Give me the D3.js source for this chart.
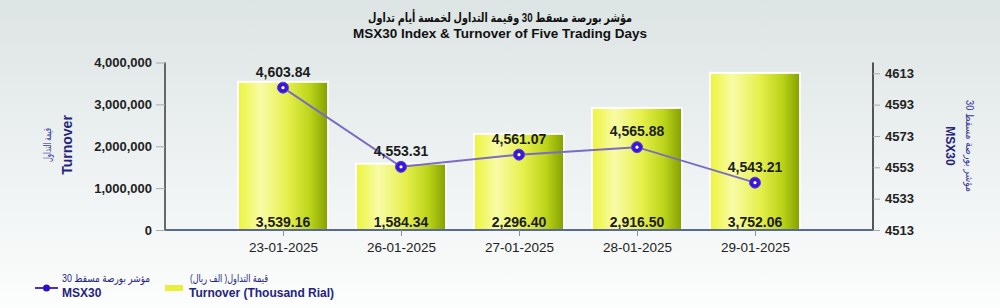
<!DOCTYPE html>
<html>
<head>
<meta charset="utf-8">
<script src="https://cdn.jsdelivr.net/npm/d3@7.9.0/dist/d3.min.js"></script>
<style>
  html, body { margin: 0; padding: 0; }
  body { width: 1000px; height: 308px; overflow: hidden; font-family: "Liberation Sans", "DejaVu Sans", Arial, sans-serif; }
  svg text { font-family: "Liberation Sans", "DejaVu Sans", Arial, sans-serif; }
</style>
</head>
<body>
<svg id="chart" width="1000" height="308"></svg>
<script>
// chart data
const dates = ["23-01-2025", "26-01-2025", "27-01-2025", "28-01-2025", "29-01-2025"];
const turnover = [3539.16, 1584.34, 2296.40, 2916.50, 3752.06]; // thousand rial
const msx30 = [4603.84, 4553.31, 4561.07, 4565.88, 4543.21];
const leftTicks = [0, 1000000, 2000000, 3000000, 4000000];
const rightTicks = [4513, 4533, 4553, 4573, 4593, 4613];

const svg = d3.select("#chart");
const defs = svg.append("defs");

// background
const bg = defs.append("linearGradient").attr("id", "bg").attr("x1", 0).attr("y1", 0).attr("x2", 0).attr("y2", 1);
bg.append("stop").attr("offset", "0%").attr("stop-color", "#dde4e4");
bg.append("stop").attr("offset", "55%").attr("stop-color", "#eef2f2");
bg.append("stop").attr("offset", "100%").attr("stop-color", "#fcfdfd");
svg.append("rect").attr("width", 1000).attr("height", 308).attr("fill", "url(#bg)");

// bar gradient
const bar = defs.append("linearGradient").attr("id", "barGrad").attr("x1", 0).attr("y1", 0).attr("x2", 1).attr("y2", 0);
bar.append("stop").attr("offset", "0%").attr("stop-color", "#ecf43a");
bar.append("stop").attr("offset", "25%").attr("stop-color", "#f8fba6");
bar.append("stop").attr("offset", "55%").attr("stop-color", "#e6f04c");
bar.append("stop").attr("offset", "80%").attr("stop-color", "#bcd41a");
bar.append("stop").attr("offset", "100%").attr("stop-color", "#84a000");

// scales
const x = d3.scalePoint().domain(dates).range([165, 873]).padding(1);
const yLeft = d3.scaleLinear().domain([0, 4000000]).range([230, 62.5]);
const yRight = d3.scaleLinear().domain([4513, 4613]).range([230, 73.3]);

// title
svg.append("text").attr("x", 500).attr("y", 22).attr("text-anchor", "middle")
  .attr("font-size", 12.5).attr("font-weight", "bold").attr("fill", "#111")
  .attr("textLength", 264).attr("lengthAdjust", "spacingAndGlyphs")
  .text("مؤشر بورصة مسقط 30 وقيمة التداول لخمسة أيام تداول");
svg.append("text").attr("x", 500).attr("y", 38).attr("text-anchor", "middle")
  .attr("font-size", 13.5).attr("font-weight", "bold").attr("fill", "#111")
  .text("MSX30 Index & Turnover of Five Trading Days");

// bars
const barW = 90;
svg.append("g").selectAll("rect")
  .data(turnover)
  .join("rect")
  .attr("x", (d, i) => x(dates[i]) - barW / 2)
  .attr("y", d => yLeft(d * 1000))
  .attr("width", barW)
  .attr("height", d => 230 - yLeft(d * 1000))
  .attr("fill", "url(#barGrad)")
  .attr("stroke", "#ffffff")
  .attr("stroke-width", 2);

// bar labels
svg.append("g").selectAll("text")
  .data(turnover)
  .join("text")
  .attr("x", (d, i) => x(dates[i]))
  .attr("y", 227)
  .attr("text-anchor", "middle")
  .attr("font-size", 14).attr("font-weight", "bold").attr("fill", "#1c1c1c")
  .text(d => d3.format(",.2f")(d));

// left axis
const leftAxis = d3.axisLeft(yLeft).tickValues(leftTicks).tickSize(9).tickPadding(4).tickFormat(d3.format(","));
const gL = svg.append("g").attr("transform", "translate(165,0)").call(leftAxis);
gL.select(".domain").attr("stroke", "#3a3a3a").attr("stroke-width", 1.5).attr("d", "M0,62.5V230");
gL.selectAll(".tick line").attr("stroke", "#aaaaaa");
gL.selectAll(".tick text").attr("font-size", 13).attr("font-weight", "bold").attr("fill", "#222");

// right axis
const rightAxis = d3.axisRight(yRight).tickValues(rightTicks).tickSize(7).tickPadding(5).tickFormat(d3.format("d"));
const gR = svg.append("g").attr("transform", "translate(873,0)").call(rightAxis);
gR.select(".domain").attr("stroke", "#222").attr("stroke-width", 1.5).attr("d", "M0,62.5V230");
gR.selectAll(".tick line").attr("stroke", "#aaaaaa");
gR.selectAll(".tick text").attr("font-size", 13).attr("font-weight", "bold").attr("fill", "#222");

// bottom axis
const bottomAxis = d3.axisBottom(x).tickSize(6).tickPadding(6);
const gB = svg.append("g").attr("transform", "translate(0,230)").call(bottomAxis);
gB.select(".domain").attr("stroke", "#5a6894").attr("stroke-width", 2).attr("d", "M165,0H873");
gB.selectAll(".tick line").attr("stroke", "#8890a8");
gB.selectAll(".tick text").attr("font-size", 13.5).attr("fill", "#222");

// index line
const line = d3.line().x((d, i) => x(dates[i])).y(d => yRight(d));
svg.append("path").datum(msx30).attr("d", line)
  .attr("fill", "none").attr("stroke", "#7a6cc4").attr("stroke-width", 2);

const pts = svg.append("g").selectAll("g").data(msx30).join("g")
  .attr("transform", (d, i) => `translate(${x(dates[i])},${yRight(d)})`);
pts.append("circle").attr("r", 5.5).attr("fill", "#3a16d6").attr("stroke", "#5a40e8").attr("stroke-width", 1);
pts.append("circle").attr("r", 1.6).attr("fill", "#ffffff");

// index labels
svg.append("g").selectAll("text").data(msx30).join("text")
  .attr("x", (d, i) => x(dates[i]))
  .attr("y", d => yRight(d) - 11)
  .attr("text-anchor", "middle")
  .attr("font-size", 14).attr("font-weight", "bold").attr("fill", "#1c1c1c")
  .text(d => d3.format(",.2f")(d));

// left axis title
const lt = svg.append("g").attr("transform", "translate(0,145) rotate(-90)");
lt.append("text").attr("x", 0).attr("y", 51).attr("text-anchor", "middle")
  .attr("font-size", 10.5).attr("fill", "#3a3a9a")
  .attr("textLength", 34).attr("lengthAdjust", "spacingAndGlyphs").text("قيمة التداول");
lt.append("text").attr("x", 0).attr("y", 72).attr("text-anchor", "middle")
  .attr("font-size", 14).attr("font-weight", "bold").attr("fill", "#24247c").text("Turnover");

// right axis title
const rt = svg.append("g").attr("transform", "translate(1000,146) rotate(90)");
rt.append("text").attr("x", 0).attr("y", 34).attr("text-anchor", "middle")
  .attr("font-size", 10.5).attr("fill", "#3a3a9a")
  .attr("textLength", 92).attr("lengthAdjust", "spacingAndGlyphs").text("مؤشر بورصة مسقط 30");
rt.append("text").attr("x", 0).attr("y", 54).attr("text-anchor", "middle")
  .attr("font-size", 12).attr("font-weight", "bold").attr("fill", "#24247c").text("MSX30");

// legend
const lg = svg.append("g");
lg.append("line").attr("x1", 35).attr("x2", 58).attr("y1", 288).attr("y2", 288)
  .attr("stroke", "#4a30c8").attr("stroke-width", 2);
lg.append("circle").attr("cx", 46.5).attr("cy", 288).attr("r", 3.5).attr("fill", "#2a10c8");
lg.append("text").attr("x", 62).attr("y", 282)
  .attr("font-size", 10.5).attr("fill", "#24247c")
  .attr("textLength", 88).attr("lengthAdjust", "spacingAndGlyphs").text("مؤشر بورصة مسقط 30");
lg.append("text").attr("x", 62).attr("y", 297)
  .attr("font-size", 12).attr("font-weight", "bold").attr("fill", "#24247c").text("MSX30");
lg.append("rect").attr("x", 165).attr("y", 285).attr("width", 18).attr("height", 6).attr("fill", "#e8f03c");
lg.append("text").attr("x", 190).attr("y", 282)
  .attr("font-size", 10.5).attr("fill", "#24247c")
  .attr("textLength", 78).attr("lengthAdjust", "spacingAndGlyphs").text("قيمة التداول( الف ريال)");
lg.append("text").attr("x", 189).attr("y", 297)
  .attr("font-size", 12).attr("font-weight", "bold").attr("fill", "#24247c").text("Turnover (Thousand Rial)");
</script>
</body>
</html>
